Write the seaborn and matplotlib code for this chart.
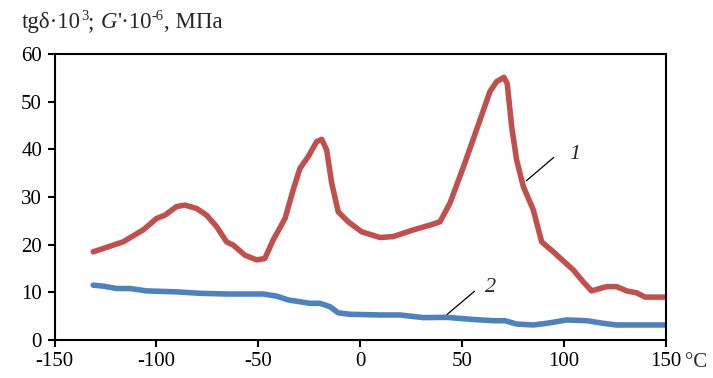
import matplotlib
matplotlib.use("Agg")
import matplotlib.pyplot as plt
import seaborn as sns
import pandas as pd

# Curve 1 (tg delta * 10^3), red
x1 = [-131, -116.3, -106.5, -99.9, -95.8, -90.1, -86, -80.3, -75.4, -70.5, -65.6, -62.3,
      -56.6, -50.8, -46.8, -42.7, -36.9, -32.9, -29.6, -25.5, -21.4, -18.9, -16.5, -14,
      -10.8, -5.9, 0.7, 9.7, 16.2, 26, 34.2, 39.1, 44, 50.7, 58.7, 63.6, 66.9, 70.5, 72.1,
      74.3, 76.7, 80, 84.9, 86.6, 89, 94.7, 104.5, 109.4, 113.5, 120.9, 125.8, 130.7,
      135.6, 139.7, 150]
y1 = [18.5, 20.6, 23.1, 25.5, 26.2, 28.0, 28.3, 27.6, 26.2, 23.8, 20.6, 19.9,
      17.8, 16.8, 17.1, 21.0, 25.5, 31.5, 36.0, 38.5, 41.6, 42.1, 39.9, 32.9,
      26.9, 24.8, 22.7, 21.5, 21.7, 23.1, 24.1, 24.8, 28.7, 36.4, 46.1, 52.1, 54.2, 55.1, 53.8,
      44.7, 37.8, 32.2, 27.3, 24.5, 20.6, 18.5, 14.7, 12.2, 10.3, 11.2, 11.2, 10.3,
      9.9, 9.0, 9.0]

# Curve 2 (G' * 10^-6, MPa), blue
x2 = [-131, -126.1, -119.5, -113, -104.8, -90.1, -78.7, -65.6, -47.6, -41, -35.3, -24.7,
      -19.8, -14.9, -10.8, -5.1, 9.7, 19.5, 30.9, 42.4, 55.4, 65.3, 71, 76.7, 84.9, 91.5,
      101.3, 111.1, 119.2, 125.8, 150]
y2 = [11.5, 11.3, 10.8, 10.8, 10.3, 10.1, 9.8, 9.65, 9.65, 9.2, 8.4, 7.7,
      7.7, 7.0, 5.7, 5.4, 5.25, 5.25, 4.7, 4.75, 4.3, 4.05, 4.05, 3.35, 3.15, 3.5,
      4.2, 4.05, 3.5, 3.15, 3.15]

x_ticks = [-150, -100, -50, 0, 50, 100, 150]
y_ticks = [0, 10, 20, 30, 40, 50, 60]

sns.set_style("white")
plt.rcParams['font.family'] = ['Liberation Serif', 'DejaVu Serif']

fig = plt.figure(figsize=(7.13, 3.78), dpi=100)
ax = fig.add_axes([54.5 / 713, 38 / 378, (666 - 54.5) / 713, (340 - 54) / 378])

df1 = pd.DataFrame({"x": x1, "y": y1})
df2 = pd.DataFrame({"x": x2, "y": y2})
sns.lineplot(data=df1, x="x", y="y", ax=ax, color="#C0504D", linewidth=4.0,
             sort=False, solid_capstyle="round", solid_joinstyle="round")
sns.lineplot(data=df2, x="x", y="y", ax=ax, color="#4F81BD", linewidth=4.0,
             sort=False, solid_capstyle="round", solid_joinstyle="round")

ax.set_xlim(-150, 150)
ax.set_ylim(0, 60)
ax.set_xticks(x_ticks)
ax.set_yticks(y_ticks)
ax.set_xticklabels([str(v) for v in x_ticks])
ax.set_yticklabels([str(v) for v in y_ticks])
ax.set_xlabel("")
ax.set_ylabel("")
for s in ax.spines.values():
    s.set_visible(True)
    s.set_color("black")
    s.set_linewidth(1.5)
ax.tick_params(axis="both", direction="out", length=5, width=1.5, color="black",
               labelsize=15, labelcolor="black", pad=4,
               bottom=True, left=True, top=False, right=False)

# annotations
ax.annotate("", xy=(80.4, 33.0), xytext=(96, 38.7),
            arrowprops=dict(arrowstyle="-", color="black", lw=0.9))
ax.text(102.5, 39.0, "1", fontsize=16, style="italic", ha="left", va="center")
ax.annotate("", xy=(41.6, 5.0), xytext=(57.1, 10.6),
            arrowprops=dict(arrowstyle="-", color="black", lw=0.9))
ax.text(61, 11.0, "2", fontsize=16, style="italic", ha="left", va="center")

# title built from pieces (text, size, style, vertical offset in points)
pieces = [("tgδ·10", 16.5, "normal", 0), ("3", 10.5, "normal", 7), ("; ", 16.5, "normal", 0),
          ("G", 16.5, "italic", 0), ("'·10", 16.5, "normal", 0), ("-6", 10.5, "normal", 7),
          (", МПа", 16.5, "normal", 0)]
prev = fig.text(22 / 713, 1 - 33 / 378, pieces[0][0], fontsize=pieces[0][1],
                style=pieces[0][2], ha="left", va="bottom")
prev_dy = 0
for txt, size, st, dy in pieces[1:]:
    prev = ax.annotate(txt, xy=(1, 0), xycoords=prev, xytext=(0, dy - prev_dy),
                       textcoords="offset points", fontsize=size, style=st,
                       ha="left", va="bottom", annotation_clip=False)
    prev_dy = dy

fig.text(685 / 713, 1 - 367 / 378, "°C", fontsize=15, ha="left", va="baseline")

fig.savefig("out.png", dpi=100)
